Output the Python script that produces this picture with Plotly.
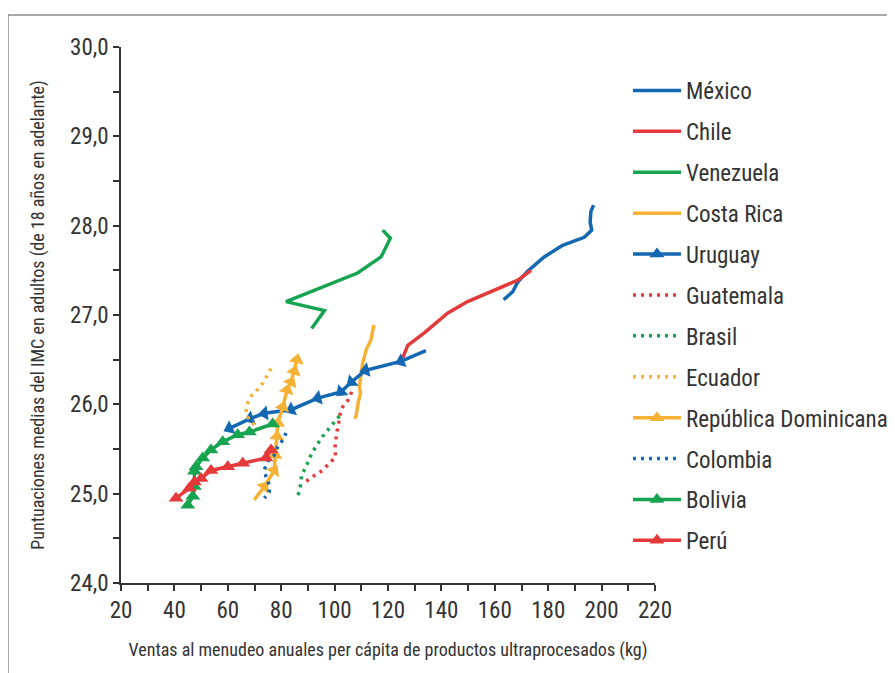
import plotly.graph_objects as go

BLUE = "#1468b2"
RED = "#e53a3b"
GREEN = "#17a450"
ORANGE = "#f6b234"
FONT = "Liberation Sans Narrow, Roboto Condensed, Arial Narrow, Roboto, sans-serif"
TXT = "#333333"

mexico_x = [163.3, 166.7, 168.6, 172.3, 178.5, 185.4, 193.5, 196.3, 195.7, 196.0, 197.0]
mexico_y = [27.17, 27.26, 27.37, 27.49, 27.65, 27.78, 27.87, 27.95, 28.04, 28.16, 28.23]

chile_x = [125.5, 127.4, 133.6, 142.3, 149.8, 158.6, 165.4, 168.6, 173.6]
chile_y = [26.52, 26.66, 26.80, 27.02, 27.15, 27.26, 27.35, 27.39, 27.50]

venezuela_x = [91.4, 96.2, 81.8, 98.7, 108.6, 117.4, 120.9, 118.0]
venezuela_y = [26.85, 27.05, 27.15, 27.35, 27.47, 27.65, 27.86, 27.95]

costarica_x = [107.4, 108.0, 108.9, 109.7, 109.3, 109.9, 110.5, 111.8, 113.6, 114.7]
costarica_y = [25.84, 25.86, 26.03, 26.12, 26.20, 26.37, 26.46, 26.61, 26.72, 26.89]

uruguay_x = [134.2, 124.8, 111.6, 106.3, 102.4, 93.7, 83.7, 73.7, 68.4, 60.6]
uruguay_y = [26.60, 26.48, 26.38, 26.25, 26.14, 26.07, 25.94, 25.90, 25.84, 25.73]

guatemala_x = [106.4, 105.1, 103.0, 102.0, 101.4, 100.8, 100.1, 100.4, 98.0, 95.5, 92.7, 89.9, 88.5]
guatemala_y = [26.14, 26.05, 25.97, 25.88, 25.77, 25.68, 25.51, 25.41, 25.34, 25.26, 25.21, 25.15, 25.12]

brasil_x = [101.8, 99.6, 97.4, 95.5, 93.0, 90.8, 89.3, 87.6, 87.4, 86.8, 85.5]
brasil_y = [25.87, 25.79, 25.71, 25.64, 25.53, 25.41, 25.30, 25.21, 25.12, 25.02, 24.94]

ecuador_x = [76.2, 74.7, 73.2, 71.3, 68.7, 67.1, 66.8, 68.1, 70.3, 73.1]
ecuador_y = [26.40, 26.32, 26.24, 26.17, 26.09, 25.99, 25.90, 25.82, 25.76, 25.69]

domrep_x = [69.9, 73.7, 77.4, 77.8, 78.4, 78.7, 80.6, 82.2, 83.7, 84.9, 85.9]
domrep_y = [24.93, 25.08, 25.26, 25.43, 25.64, 25.79, 25.97, 26.16, 26.25, 26.37, 26.50]

colombia_x = [81.8, 80.6, 78.7, 77.4, 74.9, 73.7, 74.3, 75.5, 75.5, 73.7]
colombia_y = [25.68, 25.60, 25.53, 25.43, 25.36, 25.27, 25.19, 25.10, 25.02, 24.95]

bolivia_x = [76.8, 68.1, 63.7, 58.1, 53.7, 50.6, 48.1, 47.5, 47.5, 46.9, 45.0]
bolivia_y = [25.78, 25.69, 25.66, 25.58, 25.49, 25.40, 25.30, 25.25, 25.08, 24.97, 24.87]

peru_x = [76.2, 74.3, 65.6, 60.0, 53.7, 50.0, 47.5, 45.6, 40.6]
peru_y = [25.49, 25.40, 25.34, 25.30, 25.26, 25.17, 25.13, 25.06, 24.95]

x_ticks = [20, 40, 60, 80, 100, 120, 140, 160, 180, 200, 220]
y_ticks = [24, 25, 26, 27, 28, 29, 30]
y_tick_labels = ["24,0", "25,0", "26,0", "27,0", "28,0", "29,0", "30,0"]

# name, x, y, colour, dash, triangle markers, marker orientation
series = [
    ("México", mexico_x, mexico_y, BLUE, "solid", False, "up"),
    ("Chile", chile_x, chile_y, RED, "solid", False, "up"),
    ("Venezuela", venezuela_x, venezuela_y, GREEN, "solid", False, "up"),
    ("Costa Rica", costarica_x, costarica_y, ORANGE, "solid", False, "up"),
    ("Uruguay", uruguay_x, uruguay_y, BLUE, "solid", True, "previous"),
    ("Guatemala", guatemala_x, guatemala_y, RED, "dot", False, "up"),
    ("Brasil", brasil_x, brasil_y, GREEN, "dot", False, "up"),
    ("Ecuador", ecuador_x, ecuador_y, ORANGE, "dot", False, "up"),
    ("República Dominicana", domrep_x, domrep_y, ORANGE, "solid", True, "previous"),
    ("Colombia", colombia_x, colombia_y, BLUE, "dot", False, "up"),
    ("Bolivia", bolivia_x, bolivia_y, GREEN, "solid", True, "up"),
    ("Perú", peru_x, peru_y, RED, "solid", True, "up"),
]

fig = go.Figure()
for i, (name, xs, ys, color, dash, tri, aref) in enumerate(series):
    line = dict(color=color, width=3.5,
                dash="solid" if dash == "solid" else "3px,5px")
    mode = "lines+markers" if tri else "lines"
    marker = dict(symbol="triangle-up", size=13, color=color, angleref=aref) if tri else None
    fig.add_trace(go.Scatter(x=xs, y=ys, name=name, line=line, mode=mode, marker=marker,
                             legendgroup=f"g{i}", showlegend=False))
    # legend entry (upright symbol)
    lmarker = dict(symbol="triangle-up", size=13, color=color) if tri else None
    fig.add_trace(go.Scatter(x=[None], y=[None], name=name, line=line, mode=mode, marker=lmarker,
                             legendgroup=f"g{i}", showlegend=True))

tick_font = dict(size=23, family=FONT, color=TXT)

fig.update_layout(
    width=895, height=673,
    margin=dict(l=113, r=248, t=39, b=98, autoexpand=False),
    paper_bgcolor="white", plot_bgcolor="white",
    font=dict(family=FONT, color=TXT),
    showlegend=True,
    legend=dict(x=0.9494, y=0.959, xref="paper", yref="paper", xanchor="left", yanchor="top",
                font=dict(size=23, family=FONT, color=TXT),
                itemwidth=48, tracegroupgap=8, bgcolor="rgba(0,0,0,0)",
                borderwidth=0),
    xaxis=dict(range=[20, 220], tickvals=x_ticks, showline=True, linecolor=TXT, linewidth=1.5,
               ticks="outside", ticklen=6, tickwidth=1.5, tickcolor=TXT,
               minor=dict(dtick=10, ticks="outside", ticklen=6, tickwidth=1.5, tickcolor=TXT),
               showgrid=False, zeroline=False, tickfont=tick_font,
               title=dict(text="Ventas al menudeo anuales per cápita de productos ultraprocesados (kg)",
                          font=dict(size=18, family=FONT, color=TXT), standoff=20)),
    yaxis=dict(range=[24, 30], tickvals=y_ticks, ticktext=y_tick_labels, showline=True,
               linecolor=TXT, linewidth=1.5,
               ticks="outside", ticklen=6, tickwidth=1.5, tickcolor=TXT,
               minor=dict(dtick=0.5, ticks="outside", ticklen=6, tickwidth=1.5, tickcolor=TXT),
               showgrid=False, zeroline=False, tickfont=tick_font,
               title=dict(text="Puntuaciones medias del IMC en adultos (de 18 años en adelante)",
                          font=dict(size=18, family=FONT, color=TXT), standoff=21)),
    shapes=[dict(type="rect", xref="paper", yref="paper",
                 x0=(7 - 120) / 534, x1=(905 - 120) / 534,
                 y0=(583 - 690) / 536, y1=(583 - 15) / 536,
                 line=dict(color="#555555", width=1), fillcolor="rgba(0,0,0,0)", layer="below")],
)

fig.write_html("out.html")
